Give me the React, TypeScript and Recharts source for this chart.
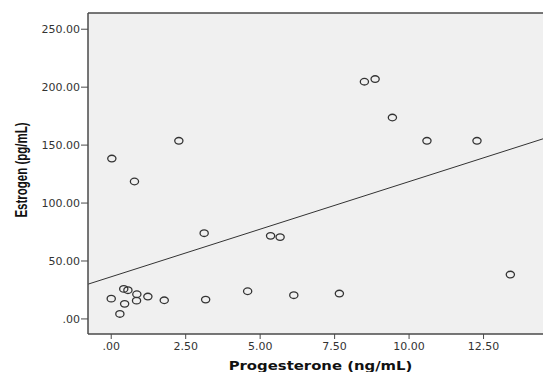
import { ScatterChart, Scatter, XAxis, YAxis, CartesianGrid, ReferenceLine, Label } from 'recharts';

// Progesterone (ng/mL) vs Estrogen (pg/mL)
const progesterone = [
  0.0, 0.42, 0.56, 0.45, 0.29, 0.86, 0.85, 1.23, 1.78, 3.17, 4.58, 6.13, 7.66, 13.4,
  0.02, 0.78, 2.27, 3.12, 5.35, 5.67, 8.5, 8.86, 9.44, 10.6, 12.28,
];
const estrogen = [
  17.5, 25.9, 24.8, 13.0, 4.3, 21.3, 15.8, 19.3, 16.1, 16.7, 23.9, 20.5, 21.9, 38.3,
  138.4, 118.6, 153.7, 74.0, 71.7, 70.6, 204.7, 207.0, 173.8, 153.7, 153.7,
];

const xTicks = [0, 2.5, 5, 7.5, 10, 12.5];
const yTicks = [0, 50, 100, 150, 200, 250];
const X_DOMAIN: [number, number] = [-0.78, 15];
const Y_DOMAIN: [number, number] = [-13, 264];

// fitted line (estrogen = a + b * progesterone)
const INTERCEPT = 36.4;
const SLOPE = 8.21;

const points = progesterone.map((p, i) => ({ x: p, y: estrogen[i] }));

const fmt = (v: number) => (v === 0 ? '.00' : v.toFixed(2));

const tickStyle = { fontFamily: '"DejaVu Sans", Verdana, sans-serif', fontSize: 11, fill: '#333' };

// the source image is stretched sideways, so markers are slightly wide
function OpenCircle(props: any) {
  const { cx, cy } = props;
  return <ellipse cx={cx} cy={cy} rx={4.1} ry={3.3} fill="none" stroke="#333" strokeWidth={1.3} />;
}

export default function App() {
  return (
    <div style={{ position: 'absolute', left: 0, top: 0, width: 543, height: 372, overflow: 'hidden', background: '#fff' }}>
      <ScatterChart width={560} height={372} margin={{ top: 13, right: 2, bottom: 0, left: 0 }}>
        <CartesianGrid fill="#f0f0f0" horizontal={false} vertical={false} />
        <XAxis
          type="number"
          dataKey="x"
          domain={X_DOMAIN}
          ticks={xTicks}
          allowDataOverflow
          height={38}
          tickFormatter={fmt}
          tick={tickStyle}
          tickSize={5}
          tickMargin={3}
          axisLine={{ stroke: '#4a4a4a', strokeWidth: 1.5 }}
          tickLine={{ stroke: '#4a4a4a' }}
        >
          <Label
            content={() => (
              <text
                transform="translate(320.5, 370) scale(1.24, 1)"
                textAnchor="middle"
                style={{ fontFamily: '"DejaVu Sans", Verdana, sans-serif', fontWeight: 'bold', fontSize: 12, fill: '#111' }}
              >
                Progesterone (ng/mL)
              </text>
            )}
          />
        </XAxis>
        <YAxis
          type="number"
          dataKey="y"
          domain={Y_DOMAIN}
          ticks={yTicks}
          allowDataOverflow
          width={88}
          tickFormatter={fmt}
          tick={tickStyle}
          tickSize={7}
          tickMargin={1}
          axisLine={{ stroke: '#4a4a4a', strokeWidth: 1.5 }}
          tickLine={{ stroke: '#4a4a4a' }}
        >
          <Label
            content={() => (
              <text
                transform="translate(21.5, 170) scale(1.4, 1) rotate(-90)"
                textAnchor="middle"
                dominantBaseline="central"
                style={{ fontFamily: '"Liberation Sans", Arial, sans-serif', fontWeight: 'bold', fontSize: 11.5, fill: '#111' }}
              >
                Estrogen (pg/mL)
              </text>
            )}
          />
        </YAxis>
        <ReferenceLine y={Y_DOMAIN[1]} stroke="#4a4a4a" strokeWidth={1.5} />
        <ReferenceLine
          segment={[
            { x: X_DOMAIN[0], y: INTERCEPT + SLOPE * X_DOMAIN[0] },
            { x: X_DOMAIN[1], y: INTERCEPT + SLOPE * X_DOMAIN[1] },
          ]}
          stroke="#333"
          strokeWidth={1}
        />
        <Scatter data={points} shape={OpenCircle} isAnimationActive={false} />
      </ScatterChart>
    </div>
  );
}
